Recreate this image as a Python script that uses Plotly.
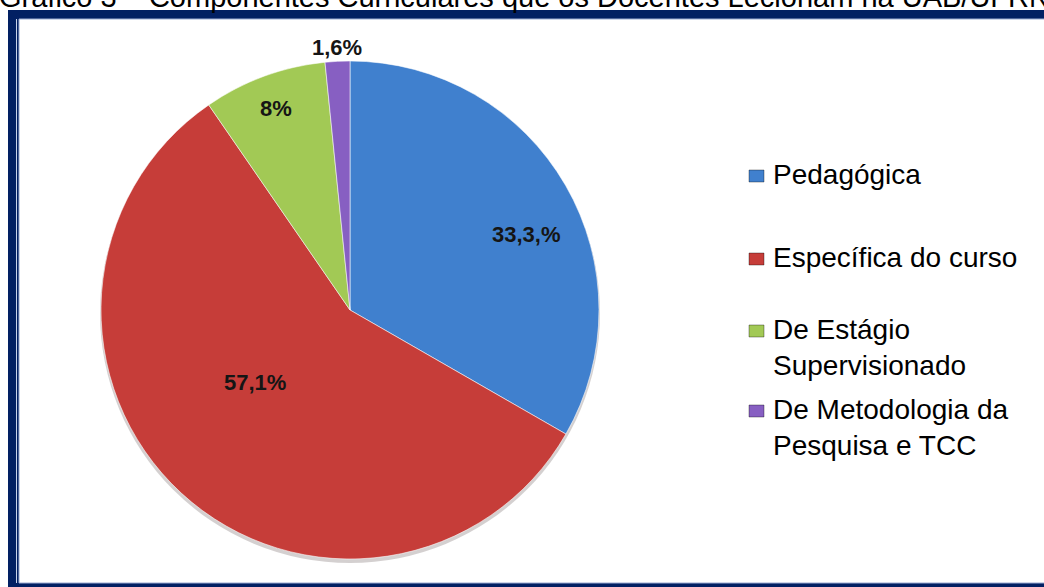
import math
import plotly.graph_objects as go

# ---- data ----
categories = ["Pedagógica", "Específica do curso", "De Estágio Supervisionado",
              "De Metodologia da Pesquisa e TCC"]
legend_text = ["Pedagógica", "Específica do curso", "De Estágio<br>Supervisionado",
               "De Metodologia da<br>Pesquisa e TCC"]
values = [33.3, 57.1, 8.0, 1.6]
value_labels = ["33,3,%", "57,1%", "8%", "1,6%"]
title_text = "Gráfico 3 – Componentes Curriculares que os Docentes Lecionam na UAB/UFRN"

# ---- styling ----
colors = ["#4080CE", "#C63D39", "#A2C955", "#875FC2"]
label_radius = [0.77, 0.48, 0.86, 1.055]   # fraction of pie radius
label_shift_deg = [7, 10, 0, 0]            # small angular nudges
legend_top = [157, 240, 312, 392]          # px, top of first text line
W, H = 1044, 587
CX, CY, R = 350, 310, 249
NAVY = "#022063"


def px(x):
    return x / W


def py(y):
    return 1 - y / H


fig = go.Figure()
fig.add_trace(go.Pie(
    labels=categories,
    values=values,
    sort=False,
    direction="clockwise",
    rotation=0,
    marker=dict(colors=colors, line=dict(color="rgba(255,255,255,0.55)", width=1)),
    textinfo="none",
    hoverinfo="label+percent",
    showlegend=False,
    domain=dict(x=[px(CX - R), px(CX + R)], y=[py(CY + R), py(CY - R)]),
))

shapes = [
    # outer navy frame
    dict(type="rect", xref="paper", yref="paper", layer="below",
         x0=px(8), x1=px(1100), y0=py(700), y1=py(10),
         fillcolor=NAVY, line=dict(width=0)),
    # inner white panel with a thin light rule
    dict(type="rect", xref="paper", yref="paper", layer="below",
         x0=px(19), x1=px(1100), y0=py(583), y1=py(19),
         fillcolor="white", line=dict(color="#9AAAD2", width=1)),
    dict(type="line", xref="paper", yref="paper", layer="below",
         x0=px(16.5), x1=px(16.5), y0=py(583), y1=py(19),
         line=dict(color="#C9D3EA", width=1)),
    # soft drop shadow under the pie
    dict(type="circle", xref="paper", yref="paper", layer="below",
         x0=px(CX - R - 1), x1=px(CX + R + 1), y0=py(CY + R + 4), y1=py(CY - R + 2),
         fillcolor="rgba(60,40,40,0.22)", line=dict(width=0)),
]

annotations = []
# percentage labels placed along each slice's angular position
cum = 0.0
total = sum(values)
for v, lab, rf, dth in zip(values, value_labels, label_radius, label_shift_deg):
    mid = (cum + v / 2) / total * 360 + dth
    cum += v
    r = rf * R
    x = CX + r * math.sin(math.radians(mid))
    y = CY - r * math.cos(math.radians(mid))
    annotations.append(dict(
        x=px(x), y=py(y), xref="paper", yref="paper", showarrow=False,
        text=f"<b>{lab}</b>", xanchor="center", yanchor="middle",
        font=dict(family="Arial, Liberation Sans", size=22, color="#151515"),
    ))

# legend: colored squares with wrapped labels
for txt, col, top in zip(legend_text, colors, legend_top):
    annotations.append(dict(
        x=px(771), y=py(top), xref="paper", yref="paper", showarrow=False,
        text=txt, xanchor="left", yanchor="top", align="left",
        font=dict(family="Arial, Liberation Sans", size=28, color="#000000"),
    ))
    shapes.append(dict(
        type="rect", xref="paper", yref="paper",
        x0=px(749), x1=px(764), y0=py(top + 25), y1=py(top + 13),
        fillcolor=col, line=dict(color="rgba(0,0,0,0.35)", width=1),
    ))

# caption running off the top edge
annotations.append(dict(
    x=px(-3), y=py(15), xref="paper", yref="paper", showarrow=False,
    text=title_text, xanchor="left", yanchor="bottom",
    font=dict(family="Arial, Liberation Sans", size=29, color="#000000"),
))

fig.update_layout(
    width=W, height=H,
    margin=dict(l=0, r=0, t=0, b=0),
    paper_bgcolor="white",
    plot_bgcolor="white",
    shapes=shapes,
    annotations=annotations,
)

fig.write_html("out.html")
